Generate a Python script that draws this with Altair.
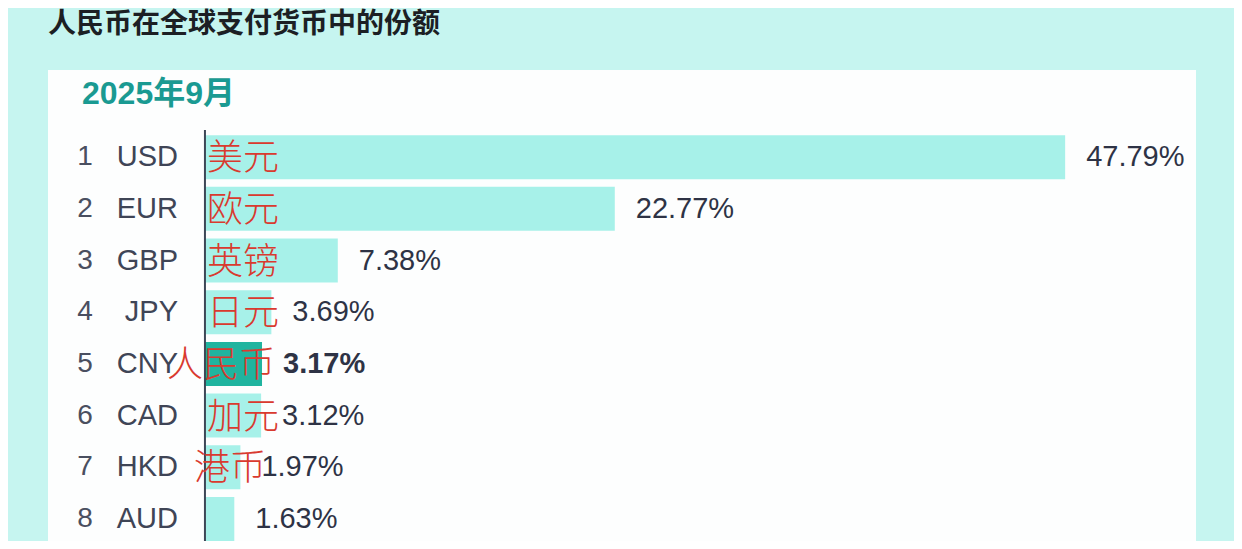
import altair as alt
import pandas as pd

ranks = [1, 2, 3, 4, 5, 6, 7, 8]
codes = ["USD", "EUR", "GBP", "JPY", "CNY", "CAD", "HKD", "AUD"]
names_cn = ["美元", "欧元", "英镑", "日元", "人民币", "加元", "港币", ""]
shares = [47.79, 22.77, 7.38, 3.69, 3.17, 3.12, 1.97, 1.63]
title_text = "人民币在全球支付货币中的份额"
period_text = "2025年9月"

df = pd.DataFrame({
    "rank": ranks,
    "code": codes,
    "name": names_cn,
    "share": shares,
})
df["label"] = df["share"].map(lambda v: f"{v:.2f}%")

LATIN = "Liberation Sans, Arial, Noto Sans CJK SC"
CJK = "Noto Sans CJK SC"

y_enc = alt.Y("code:N", sort=codes, axis=None,
              scale=alt.Scale(paddingInner=0.149, paddingOuter=0.63, align=1))
x_scale = alt.Scale(domain=[-8.72, 55.06], nice=False, zero=False)

base = alt.Chart(df)

bars = base.mark_bar(cornerRadius=0).encode(
    x=alt.X("share:Q", scale=x_scale, axis=None),
    x2=alt.datum(0),
    y=y_enc,
    color=alt.condition(alt.datum.code == "CNY", alt.value("#20b49f"), alt.value("#a7f1e9")),
)

axis_line = base.mark_rule(color="#3d4757", strokeWidth=2).encode(
    x=alt.X("zero:Q", scale=x_scale),
    y=alt.value(60),
    y2=alt.value(471),
).transform_calculate(zero="0").transform_filter(alt.datum.rank == 1)


def value_layer(filt, weight):
    return base.mark_text(align="left", baseline="middle", dx=21, font=LATIN,
                          fontSize=29, fontWeight=weight, color="#2e3345").encode(
        x=alt.X("share:Q", scale=x_scale),
        y=y_enc,
        text="label:N",
    ).transform_filter(filt)


values_normal = value_layer("datum.code != 'CNY'", "normal")
values_bold = value_layer("datum.code == 'CNY'", "bold")

rank_labels = base.mark_text(align="center", baseline="middle", font=LATIN,
                             fontSize=28, color="#4a4f60").encode(
    x=alt.value(37),
    y=y_enc,
    text="rank:N",
)

code_labels = base.mark_text(align="right", baseline="middle", font=LATIN,
                             fontSize=29, color="#3f4556").encode(
    x=alt.value(130),
    y=y_enc,
    text="code:N",
)


def cn_layer(filt, dx):
    return base.mark_text(align="left", baseline="middle", dx=dx, dy=2, font=CJK,
                          fontSize=36, fontWeight=300, color="#d93a2f").encode(
        x=alt.X("zero:Q", scale=x_scale),
        y=y_enc,
        text="name:N",
    ).transform_calculate(zero="0").transform_filter(filt)


cn_main = cn_layer("datum.code != 'CNY' && datum.code != 'HKD' && datum.name != ''", 2)
cn_cny = cn_layer("datum.code == 'CNY'", -38)
cn_hkd = cn_layer("datum.code == 'HKD'", -11)

period = base.mark_text(align="left", baseline="alphabetic", font=LATIN,
                        fontSize=32, fontWeight="bold", color="#1a9a92").encode(
    x=alt.value(34),
    y=alt.value(34),
    text=alt.value(period_text),
).transform_filter(alt.datum.rank == 1)

title = base.mark_text(align="left", baseline="alphabetic", font=CJK,
                       fontSize=28, fontWeight="bold", color="#1c1f24").encode(
    x=alt.value(0),
    y=alt.value(-37),
    text=alt.value(title_text),
).transform_filter(alt.datum.rank == 1)

chart = alt.layer(
    bars, axis_line, values_normal, values_bold, rank_labels, code_labels,
    cn_main, cn_cny, cn_hkd, period, title,
).properties(
    width=1148,
    height=471,
    autosize=alt.AutoSizeParams(type="none"),
    padding={"left": 40, "top": 62, "right": 38, "bottom": 0},
    background="#c6f5f0",
).configure_view(
    fill="#fdfefe",
    stroke=None,
)

chart.save("out.html", embed_options={"renderer": "svg", "actions": False})
